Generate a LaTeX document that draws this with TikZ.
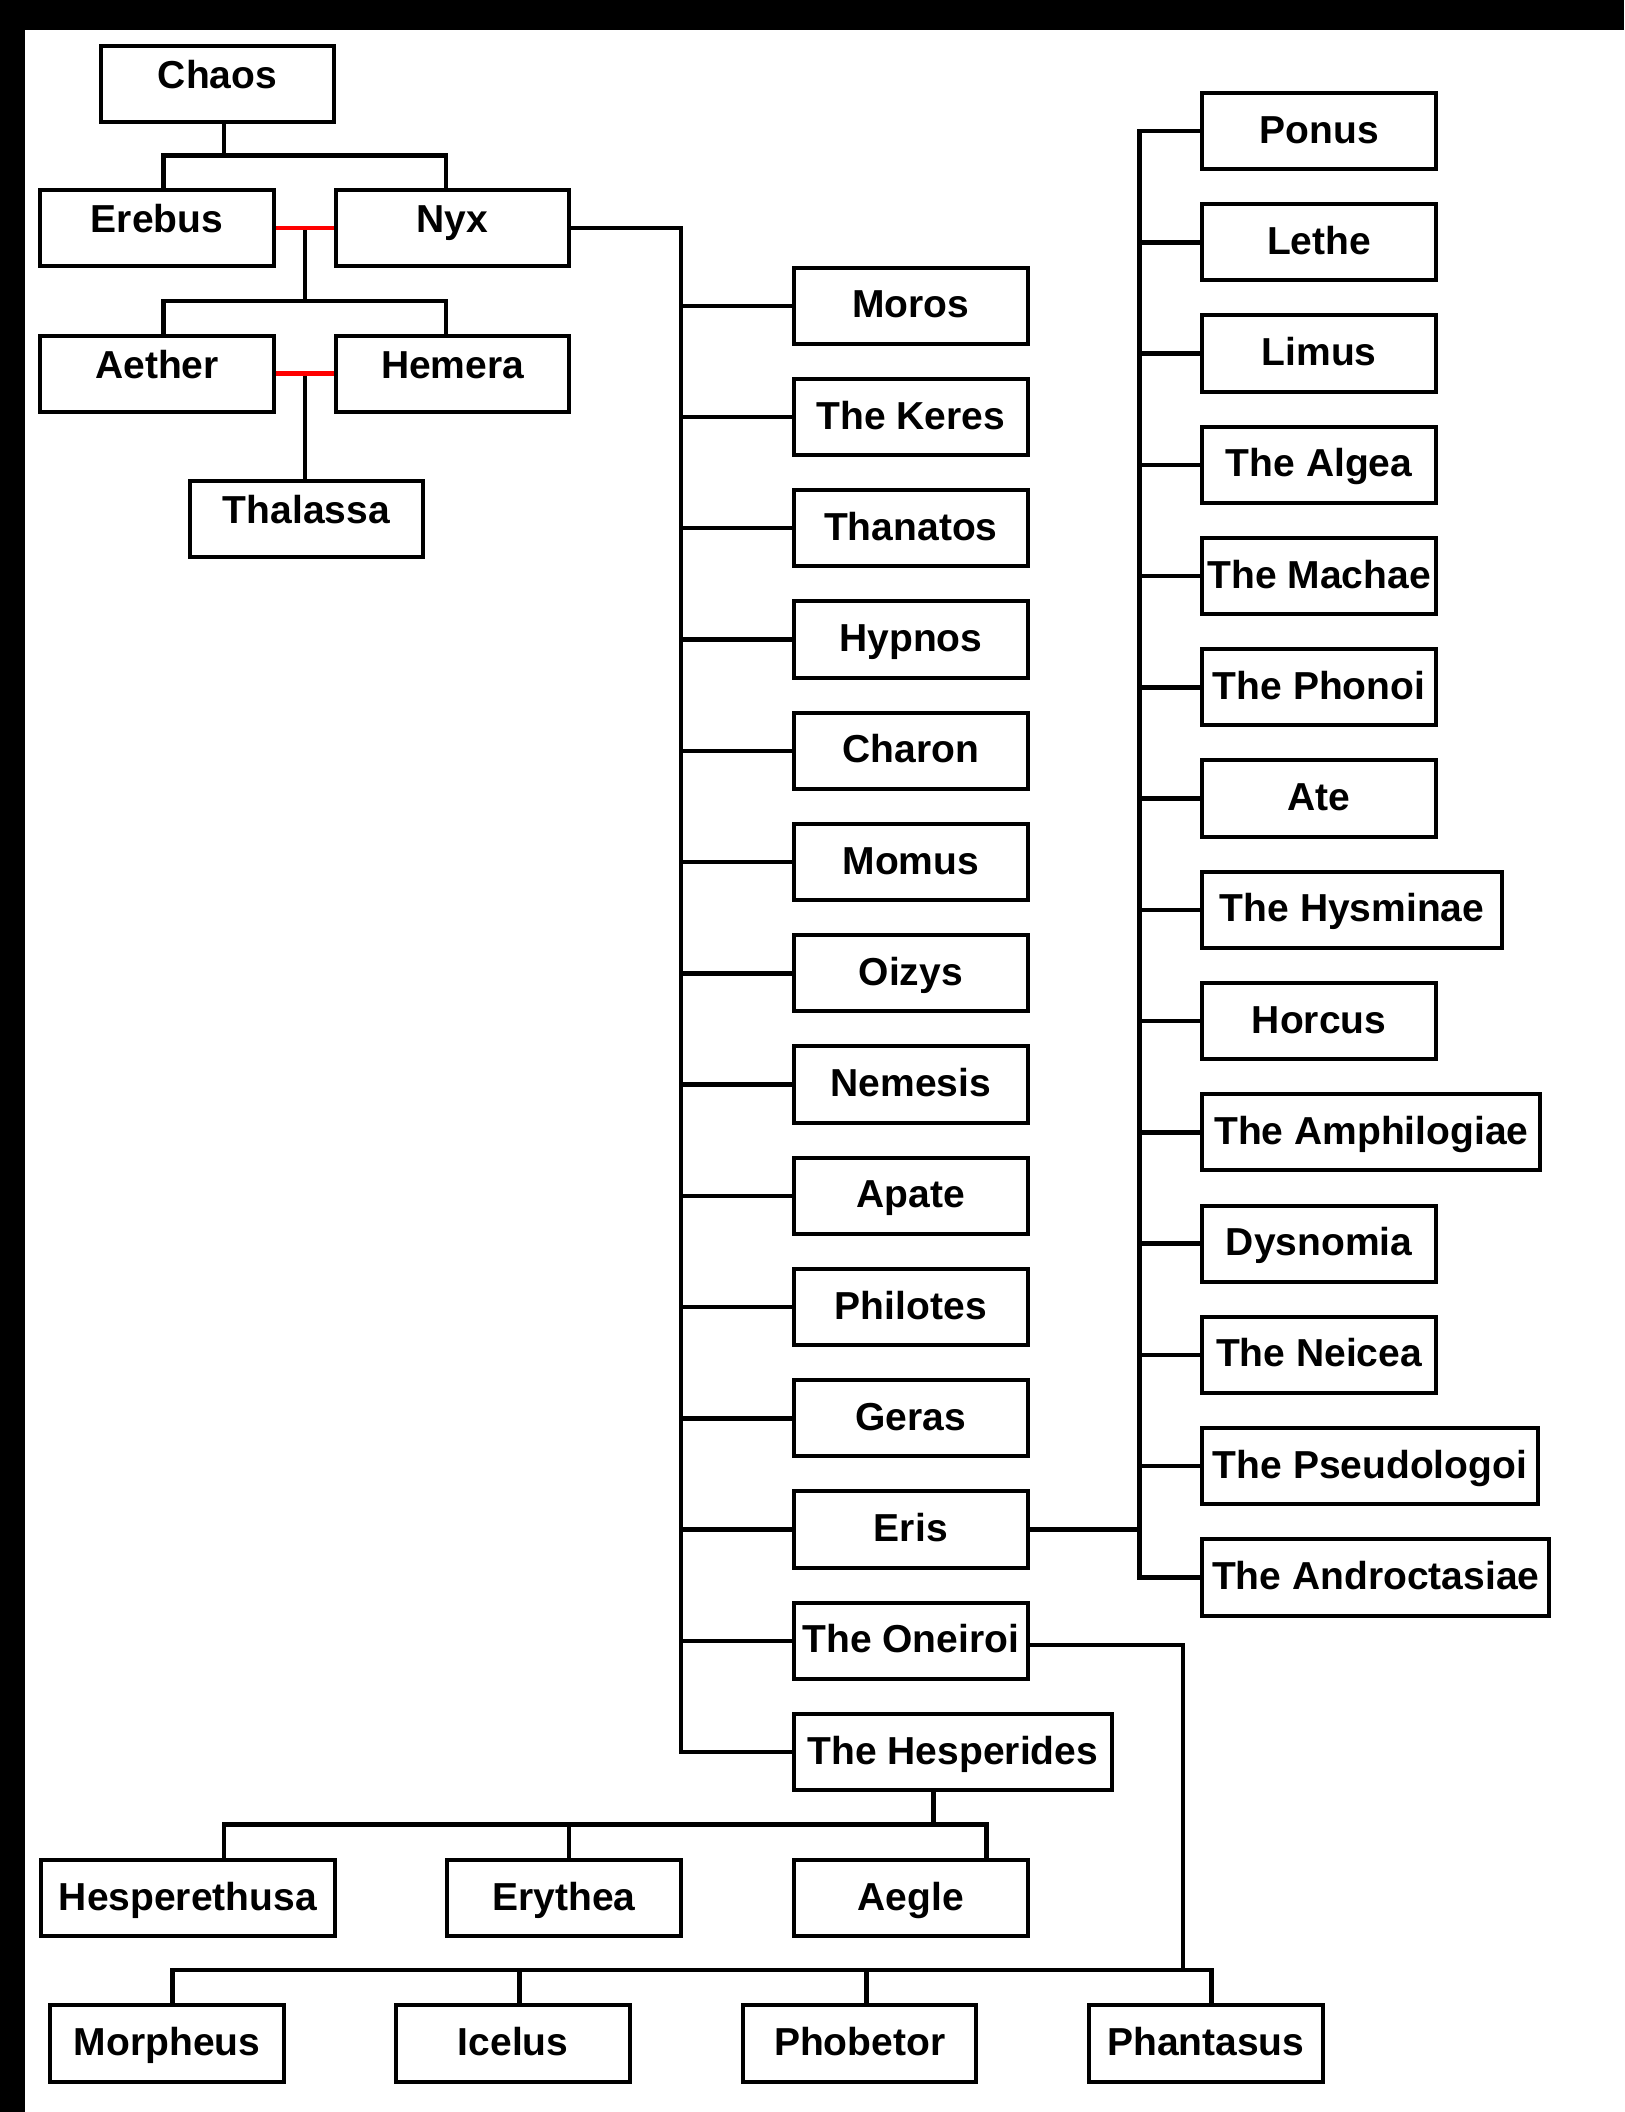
\documentclass[tikz,border=0pt]{standalone}
\usepackage{fontspec}
\setmainfont{Liberation Sans}
\usetikzlibrary{positioning,calc}

\begin{document}
\begin{tikzpicture}[x=0.6733pt, y=-0.6733pt,
        person/.style={draw, rectangle, line width=2pt, anchor=west, minimum width=116.8pt, minimum height=38.1pt, inner sep=0pt, align=center, fill=white, font=\fontsize{19.5}{20}\selectfont\bfseries, text height=14pt, text depth=2pt},
        upper/.style={text depth=9.6pt},
        link/.style={line width=2.2pt, line cap=rect},
        wed/.style={line width=2.2pt, red}
    ]
        % frame
        \useasboundingbox (0,0) rectangle (1206,1568);
        \fill[white] (0,0) rectangle (1206,1568);
        \fill[black] (0,0) rectangle (1206,22.3);
        \fill[black] (0,0) rectangle (18.3,1568);

        % first generations
        \node [person, upper] (chaos) at (73.3,62.1) {Chaos};
        \node [person, upper] (erebus) at (28.4,169.4) {Erebus};
        \node [person, upper] (nyx) at (247.8,169.4) {Nyx};
        \node [person, upper] (aether) at (28.4,277.4) {Aether};
        \node [person, upper] (hemera) at (247.8,277.4) {Hemera};
        \node [person, upper] (thalassa) at (139.3,385.1) {Thalassa};

        % children of Nyx
        \foreach \n/\t/\w [count=\i from 0] in {moros/Moros/116.8, keres/The Keres/116.8, thanatos/Thanatos/116.8, hypnos/Hypnos/116.8, charon/Charon/116.8, momus/Momus/116.8, oizys/Oizys/116.8, nemesis/Nemesis/116.8, apate/Apate/116.8, philotes/Philotes/116.8, geras/Geras/116.8, eris/Eris/116.8, oneiroi/The Oneiroi/116.8, hesperides/The Hesperides/158.8}
            \node [person, minimum width=\w pt] (\n) at (588,{227+82.6*\i}) {\t};

        % children of Eris
        \foreach \n/\t/\w [count=\i from 0] in {ponus/Ponus/116.8, lethe/Lethe/116.8, limus/Limus/116.8, algea/The Algea/116.8, machae/The Machae/116.8, phonoi/The Phonoi/116.8, ate/Ate/116.8, hysminae/The Hysminae/149.8, horcus/Horcus/116.8, amphilogiae/The Amphilogiae/169, dysnomia/Dysnomia/116.8, neicea/The Neicea/116.8, pseudologoi/The Pseudologoi/167.7, androctasiae/The Androctasiae/173.5}
            \node [person, minimum width=\w pt] (\n) at (891.1,{97.3+82.6*\i}) {\t};

        % Hesperides and Oneiroi
        \node [person, minimum width=147.1pt] (hesperethusa) at (28.8,1409.3) {Hesperethusa};
        \node [person] (erythea) at (330.5,1409.3) {Erythea};
        \node [person] (aegle) at (588,1409.3) {Aegle};
        \node [person] (morpheus) at (35.8,1517.2) {Morpheus};
        \node [person] (icelus) at (292.7,1517.2) {Icelus};
        \node [person] (phobetor) at (550,1517.2) {Phobetor};
        \node [person] (phantasus) at (807,1517.2) {Phantasus};

        % top of the tree
        \draw [link] ([xshift=3.3pt]chaos.south) -- ++(0,22.7);
        \draw [link] ([xshift=3.2pt]erebus.north) -- ++(0,-24.2) -| ([xshift=-3.2pt]nyx.north);
        \draw [link] ($(erebus.east)!0.5!(nyx.west)$) coordinate (wed1) -- ++(0,53.7);
        \draw [link] ([xshift=3.2pt]aether.north) -- ++(0,-24.2) -| ([xshift=-3.2pt]hemera.north);
        \draw [link] ($(aether.east)!0.5!(hemera.west)$) coordinate (wed2) -- (wed2 |- thalassa.north);
        \draw [wed] (erebus.east) -- (nyx.west);
        \draw [wed] (aether.east) -- (hemera.west);

        % Nyx line
        \draw [link] (nyx.east) -- ++(81.3,0) coordinate (nyxturn) -- (nyxturn |- hesperides.west) -- (hesperides.west);
        \foreach \n in {moros,keres,thanatos,hypnos,charon,momus,oizys,nemesis,apate,philotes,geras,eris,oneiroi}
            \draw [link] (\n.west) -- (\n.west -| nyxturn);

        % Eris line
        \draw [link] (eris.east) -- ++(81.5,0) coordinate (eristurn);
        \draw [link] (ponus.west -| eristurn) -- (androctasiae.west -| eristurn);
        \foreach \n in {ponus,lethe,limus,algea,machae,phonoi,ate,hysminae,horcus,amphilogiae,dysnomia,neicea,pseudologoi,androctasiae}
            \draw [link] (\n.west) -- (\n.west -| eristurn);

        % Hesperides line
        \draw [link] ([xshift=-9.6pt]hesperides.south) -- ++(0,23.1);
        \draw [link] ([xshift=18pt]hesperethusa.north) -- ++(0,-24.9) -| ([xshift=37.8pt]aegle.north);
        \draw [link] ([xshift=2.6pt]erythea.north) -- ++(0,-24.9);

        % Oneiroi line
        \draw [link] ([xshift=2.7pt]morpheus.north) -- ++(0,-25) coordinate (dreambus) -| ([xshift=2.9pt]phantasus.north);
        \draw [link] ([xshift=3.2pt]icelus.north) -- ++(0,-25);
        \draw [link] ([xshift=3.4pt]phobetor.north) -- ++(0,-25);
        \draw [link] ([yshift=-2pt]oneiroi.east) -- ++(114,0) coordinate (dreamturn) -- (dreamturn |- dreambus);
    \end{tikzpicture}
\end{document}
